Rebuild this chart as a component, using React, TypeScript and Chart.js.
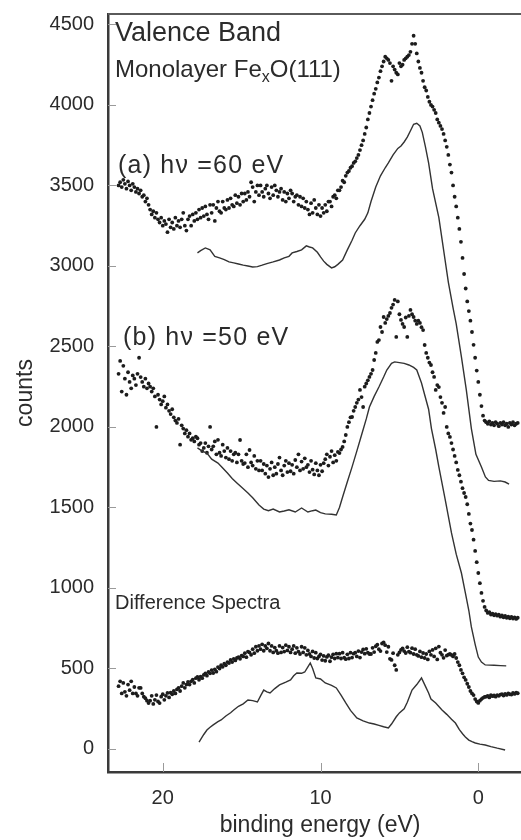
import React, { useEffect, useRef } from "react";
import { Chart, registerables } from "chart.js";

Chart.register(...registerables);

// Spectra sampled on a fixed 0.1 eV grid, starting at 22.8 eV binding energy.
const DOT_START_EV = 22.8;
const DOT_STEP_EV = 0.1;

// (a) hν = 60 eV, measured counts
const countsA60: number[] = [
  3500, 3520, 3490, 3535, 3510, 3480, 3525, 3500, 3470, 3510,
  3490, 3460, 3480, 3450, 3470, 3430, 3440, 3400, 3420, 3380,
  3350, 3320, 3340, 3300, 3330, 3290, 3270, 3300, 3250, 3280,
  3260, 3210, 3290, 3240, 3270, 3230, 3300, 3250, 3280, 3240,
  3290, 3330, 3250, 3220, 3290, 3310, 3250, 3320, 3280, 3330,
  3290, 3350, 3300, 3360, 3310, 3370, 3320, 3290, 3380, 3330,
  3380, 3280, 3360, 3400, 3340, 3330, 3400, 3360, 3350, 3410,
  3360, 3420, 3380, 3370, 3440, 3390, 3430, 3380, 3450, 3400,
  3450, 3410, 3460, 3430, 3520, 3490, 3400, 3460, 3500, 3440,
  3500, 3460, 3430, 3480, 3500, 3450, 3420, 3490, 3440, 3500,
  3470, 3430, 3460, 3480, 3410, 3460, 3400, 3450, 3420, 3470,
  3450, 3400, 3430, 3440, 3380, 3430, 3370, 3420, 3360, 3400,
  3350, 3320, 3390, 3330, 3410, 3360, 3320, 3380, 3310, 3360,
  3330, 3380, 3340, 3400, 3400, 3370, 3430, 3440, 3420, 3470,
  3470, 3490, 3530, 3520, 3560, 3580, 3590, 3610, 3620, 3640,
  3650, 3670, 3690, 3720, 3750, 3780, 3820, 3860, 3910, 3950,
  3990, 4030, 4070, 4100, 4140, 4170, 4210, 4240, 4270, 4300,
  4290, 4280, 4260, 4150, 4240, 4220, 4200, 4190, 4260, 4240,
  4250, 4280, 4290, 4300, 4310, 4330, 4380, 4430, 4380, 4320,
  4270, 4230, 4200, 4150, 4110, 4090, 4050, 4020, 4000, 3990,
  3970, 3950, 3910, 3890, 3870, 3850, 3820, 3780, 3740, 3690,
  3630, 3580, 3500, 3430, 3370, 3300, 3230, 3150, 3050, 2950,
  2860, 2780, 2720, 2660, 2590, 2510, 2430, 2350, 2280, 2200,
  2130, 2070, 2040, 2030, 2020, 2035, 2015, 2025, 2010, 2030,
  2020, 2005, 2025, 2015, 2030, 2010, 2020, 2000, 2025, 2015,
  2030, 2010, 2020, 2025,
];

// (b) hν = 50 eV, measured counts
const countsB50: number[] = [
  2330, 2410, 2220, 2380, 2300, 2200, 2340, 2280, 2240, 2320,
  2300, 2260, 2330, 2430, 2310, 2280, 2250, 2300, 2240, 2270,
  2250, 2220, 2240, 2190, 2000, 2200, 2170, 2140, 2160, 2190,
  2120, 2140, 2100, 2080, 2110, 2060, 2040, 2025, 2050, 1890,
  2010, 1990, 1960, 1980, 1940, 1960, 1920, 1930, 1910, 1940,
  1930, 1890, 1900, 1850, 1870, 1900, 1840, 1880, 2000, 1860,
  1880, 1910, 1830, 1920, 1840, 1820, 1890, 1850, 1810, 1870,
  1800, 1850, 1790, 1830, 1840, 1780, 1830, 1919, 1790, 1770,
  1776, 1830, 1750, 1857, 1780, 1760, 1820, 1740, 1790, 1730,
  1790, 1730, 1770, 1710, 1760, 1689, 1740, 1780, 1700, 1750,
  1710, 1770, 1810, 1730, 1700, 1760, 1790, 1720, 1775, 1725,
  1765, 1710, 1795, 1750, 1830, 1730, 1785, 1740, 1805, 1750,
  1765, 1720, 1790, 1735, 1705, 1775, 1730, 1700, 1765, 1725,
  1775, 1800, 1830, 1760, 1815, 1850, 1780, 1825, 1790, 1845,
  1838, 1860, 1876, 1910, 1950, 2000, 2030, 2060, 2062, 2100,
  2124, 2150, 2170, 2230, 2186, 2124, 2250, 2270, 2290, 2311,
  2330, 2354, 2416, 2460, 2528, 2540, 2621, 2590, 2683, 2646,
  2670, 2690, 2708, 2740, 2760, 2789, 2559, 2780, 2700, 2665,
  2640, 2621, 2680, 2559, 2690, 2727, 2700, 2683, 2660, 2640,
  2660, 2646, 2620, 2602, 2509, 2460, 2430, 2400, 2385, 2340,
  2311, 2230, 2260, 2248, 2186, 2150, 2087, 2124, 2000, 1960,
  1938, 1900, 1860, 1820, 1780, 1733, 1700, 1660, 1620, 1590,
  1565, 1520, 1460, 1400, 1360, 1300, 1230, 1160, 1093, 1030,
  969, 920, 882, 860, 845, 850, 835, 840, 830, 838,
  828, 835, 822, 830, 818, 826, 815, 822, 812, 820,
  810, 818, 808, 815,
];

// Difference spectrum, measured counts
const countsDiff: number[] = [
  390, 420, 345, 410, 355, 330, 400, 365, 420, 345,
  385, 345, 330, 380, 379, 345, 325, 315, 300, 285,
  300, 330, 280, 305, 335, 295, 285, 325, 340, 305,
  330, 348, 320, 350, 340, 360, 345, 370, 379, 360,
  390, 410, 380, 400, 416, 400, 420, 430, 410, 440,
  447, 430, 450, 440, 460, 470, 455, 478, 470, 490,
  472, 495, 480, 509, 500, 520, 510, 530, 520, 540,
  534, 553, 540, 560, 550, 565, 570, 560, 580, 575,
  595, 570, 605, 600, 585, 620, 595, 635, 610, 640,
  620, 650, 610, 640, 625, 655, 610, 640, 600, 630,
  610, 595, 640, 600, 630, 605, 645, 612, 635, 600,
  620, 640, 595, 628, 605, 590, 635, 600, 628, 585,
  612, 590, 575, 606, 565, 598, 562, 575, 588, 552,
  578, 548, 572, 582, 545, 570, 588, 562, 592, 568,
  592, 562, 598, 568, 558, 588, 562, 598, 568, 592,
  598, 575, 608, 568, 602, 618, 592, 622, 598, 590,
  590, 628, 602, 638, 648, 620, 608, 655, 662, 645,
  602, 635, 560, 553, 595, 520, 491, 585, 600, 615,
  625, 608, 596, 632, 605, 598, 626, 590, 620, 585,
  578, 606, 570, 596, 565, 590, 556, 606, 585, 615,
  575, 625, 556, 636, 598, 585, 566, 614, 580, 586,
  590, 584, 575, 590, 565, 540, 520, 491, 470, 445,
  429, 405, 385, 360, 345, 335, 310, 295, 286, 300,
  310, 318, 323, 325, 330, 320, 335, 328, 332, 325,
  335, 330, 338, 340, 332, 342, 336, 345, 340, 338,
  348, 342, 350, 346,
];

// Solid reference curves: [binding energy (eV), counts]
const lineA60: [number, number][] = [
  [17.8, 3081], [17.6, 3095], [17.3, 3112], [17.0, 3100], [16.7, 3060], [16.4, 3050],
  [16.1, 3040], [15.8, 3025], [15.5, 3019], [15.2, 3012], [14.9, 3005], [14.6, 3000],
  [14.3, 2994], [14.0, 2996], [13.7, 3005], [13.4, 3015], [13.0, 3025], [12.6, 3037],
  [12.3, 3050], [12.0, 3060], [11.8, 3081], [11.5, 3090], [11.2, 3100], [10.9, 3125],
  [10.7, 3118], [10.5, 3112], [10.2, 3085], [10.0, 3056], [9.8, 3030], [9.6, 3010],
  [9.3, 2988], [9.1, 2995], [8.9, 3010], [8.6, 3037], [8.3, 3100], [8.0, 3160],
  [7.8, 3205], [7.5, 3250], [7.2, 3290], [7.0, 3330], [6.8, 3400], [6.5, 3491],
  [6.2, 3560], [5.9, 3610], [5.7, 3640], [5.4, 3690], [5.1, 3730], [4.9, 3745],
  [4.7, 3770], [4.5, 3800], [4.3, 3840], [4.1, 3880], [3.9, 3886], [3.7, 3870],
  [3.55, 3830], [3.35, 3740], [3.15, 3640], [2.9, 3480], [2.5, 3300], [2.2, 3100],
  [1.9, 2900], [1.6, 2740], [1.4, 2640], [1.07, 2435], [0.76, 2230], [0.44, 1990],
  [0.15, 1830], [-0.2, 1752], [-0.45, 1690], [-0.65, 1668], [-1.0, 1662], [-1.4, 1665],
  [-1.7, 1658], [-1.95, 1645],
];

const lineB50: [number, number][] = [
  [17.8, 1870], [17.5, 1850], [17.2, 1838], [16.9, 1800], [16.5, 1776], [16.2, 1745],
  [15.9, 1714], [15.6, 1680], [15.3, 1652], [15.0, 1625], [14.6, 1590], [14.3, 1560],
  [13.9, 1515], [13.6, 1490], [13.3, 1480], [13.0, 1490], [12.6, 1472], [12.3, 1478],
  [12.0, 1486], [11.6, 1472], [11.2, 1497], [10.8, 1472], [10.5, 1480], [10.3, 1484],
  [10.0, 1468], [9.7, 1460], [9.3, 1458], [9.0, 1453], [8.8, 1500], [8.6, 1565],
  [8.3, 1660], [8.0, 1752], [7.7, 1850], [7.4, 1950], [7.1, 2050], [6.9, 2124],
  [6.6, 2190], [6.3, 2248], [6.0, 2310], [5.8, 2354], [5.5, 2395], [5.3, 2404],
  [5.0, 2400], [4.7, 2395], [4.4, 2385], [4.1, 2370], [3.9, 2354], [3.6, 2273],
  [3.4, 2200], [3.15, 2110], [2.97, 1990], [2.7, 1860], [2.5, 1752], [2.1, 1550],
  [1.7, 1342], [1.4, 1210], [1.07, 1093], [0.82, 969], [0.6, 860], [0.44, 758],
  [0.2, 650], [0.0, 571], [-0.2, 540], [-0.44, 522], [-1.0, 520], [-1.4, 518],
  [-1.77, 516],
];

const lineDiff: [number, number][] = [
  [17.7, 43], [17.4, 90], [17.2, 118], [17.0, 135], [16.8, 150], [16.5, 170],
  [16.3, 180], [16.0, 205], [15.7, 225], [15.5, 242], [15.2, 265], [14.9, 280],
  [14.6, 304], [14.3, 300], [14.0, 292], [13.8, 330], [13.6, 366], [13.4, 355],
  [13.2, 348], [12.9, 375], [12.6, 398], [12.2, 415], [11.9, 429], [11.7, 455],
  [11.5, 472], [11.2, 470], [11.0, 478], [10.8, 510], [10.65, 534], [10.5, 500],
  [10.3, 441], [10.0, 435], [9.7, 410], [9.3, 395], [9.0, 379], [8.7, 335],
  [8.4, 286], [8.1, 240], [7.7, 193], [7.3, 175], [6.9, 161], [6.6, 155],
  [6.3, 147], [6.0, 138], [5.7, 130], [5.5, 155], [5.2, 200], [5.0, 224],
  [4.7, 250], [4.5, 290], [4.2, 366], [3.9, 400], [3.6, 441], [3.4, 400],
  [3.15, 348], [3.0, 310], [2.7, 285], [2.3, 242], [2.0, 215], [1.7, 185],
  [1.45, 161], [1.2, 120], [1.0, 95], [0.82, 75], [0.6, 55], [0.4, 45],
  [0.19, 37], [-0.1, 30], [-0.44, 25], [-0.8, 15], [-1.2, 5], [-1.7, -6],
];

const Y_TICKS = [0, 500, 1000, 1500, 2000, 2500, 3000, 3500, 4000, 4500];
const X_TICKS = [20, 10, 0];
const X_MIN = -3.41;
const X_MAX = 23.47;
const Y_MIN = -143;
const Y_MAX = 4565;

const FONT = "'Liberation Sans', Arial, Helvetica, sans-serif";
const INK = "#2b2b2b";

const gridPoints = (counts: number[]) =>
  counts.map((c, i) => ({ x: +(DOT_START_EV - i * DOT_STEP_EV).toFixed(2), y: c }));
const pairPoints = (pairs: [number, number][]) => pairs.map(([x, y]) => ({ x, y }));

const frameAndLabels = {
  id: "frameAndLabels",
  afterDraw(chart: any) {
    const { ctx, chartArea: a, scales } = chart;
    const xs = scales.x;
    const ys = scales.y;
    ctx.save();
    // upper frame edge
    ctx.strokeStyle = "#5a5a5a";
    ctx.lineWidth = 2;
    ctx.beginPath();
    ctx.moveTo(a.left, a.top);
    ctx.lineTo(a.right, a.top);
    ctx.stroke();

    // inward tick marks
    ctx.strokeStyle = "#9a9a9a";
    ctx.lineWidth = 1;
    ctx.beginPath();
    Y_TICKS.forEach((v) => {
      const py = Math.round(ys.getPixelForValue(v)) + 0.5;
      ctx.moveTo(a.left, py);
      ctx.lineTo(a.left + 8, py);
    });
    X_TICKS.forEach((v) => {
      const px = Math.round(xs.getPixelForValue(v)) + 0.5;
      ctx.moveTo(px, a.bottom);
      ctx.lineTo(px, a.bottom - 9);
    });
    ctx.stroke();

    // panel annotations
    ctx.fillStyle = INK;
    ctx.textBaseline = "alphabetic";
    ctx.textAlign = "left";
    const lx = a.left + 7;

    ctx.font = `27px ${FONT}`;
    ctx.fillText("Valence Band", lx, a.top + 27);

    ctx.font = `24px ${FONT}`;
    let tx = lx;
    const by = a.top + 63;
    ctx.fillText("Monolayer Fe", tx, by);
    tx += ctx.measureText("Monolayer Fe").width;
    ctx.font = `16px ${FONT}`;
    ctx.fillText("x", tx, by + 5);
    tx += ctx.measureText("x").width;
    ctx.font = `24px ${FONT}`;
    ctx.fillText("O(111)", tx, by);

    ctx.font = `25px ${FONT}`;
    ctx.letterSpacing = "1.2px";
    ctx.fillText("(a) h\u03bd =60 eV", a.left + 10, a.top + 159);
    ctx.fillText("(b) h\u03bd =50 eV", a.left + 15, a.top + 331);
    ctx.letterSpacing = "0px";

    ctx.font = `20px ${FONT}`;
    ctx.fillText("Difference Spectra", lx, a.top + 595);
    ctx.restore();
  },
};

export default function App() {
  const canvasRef = useRef<HTMLCanvasElement | null>(null);

  useEffect(() => {
    const canvas = canvasRef.current;
    if (!canvas) return;
    Chart.defaults.font.family = FONT;
    Chart.defaults.color = INK;

    const dot = (data: { x: number; y: number }[]) => ({
      data,
      showLine: false,
      pointRadius: 1.9,
      pointHoverRadius: 1.9,
      pointStyle: "circle" as const,
      pointBackgroundColor: "#1c1c1c",
      pointBorderWidth: 0,
    });
    const line = (data: { x: number; y: number }[]) => ({
      data,
      showLine: true,
      borderColor: "#333333",
      borderWidth: 1.4,
      pointRadius: 0,
      tension: 0,
      fill: false,
    });

    const chart = new Chart(canvas, {
      type: "scatter",
      data: {
        datasets: [
          line(pairPoints(lineA60)),
          line(pairPoints(lineB50)),
          line(pairPoints(lineDiff)),
          dot(gridPoints(countsA60)),
          dot(gridPoints(countsB50)),
          dot(gridPoints(countsDiff)),
        ] as any,
      },
      options: {
        animation: false,
        responsive: false,
        maintainAspectRatio: false,
        layout: { padding: { top: 14, left: 0, right: 0, bottom: 0 } },
        plugins: { legend: { display: false }, tooltip: { enabled: false } },
        scales: {
          x: {
            type: "linear",
            position: "bottom",
            reverse: true,
            min: X_MIN,
            max: X_MAX,
            afterBuildTicks: (ax: any) => {
              ax.ticks = X_TICKS.map((v) => ({ value: v }));
            },
            afterFit: (ax: any) => {
              ax.height = 68;
              ax.paddingLeft = 0;
              ax.paddingRight = 0;
            },
            grid: { display: false, drawTicks: false },
            border: { display: true, color: "#3a3a3a", width: 2.5 },
            ticks: {
              padding: 14,
              font: { size: 20 },
              color: INK,
              maxRotation: 0,
              autoSkip: false,
              callback: (v: any) => String(v),
            },
            title: {
              display: true,
              text: "binding energy (eV)",
              font: { size: 23 },
              color: INK,
              padding: { top: 0, bottom: 1 },
            },
          },
          y: {
            type: "linear",
            position: "left",
            min: Y_MIN,
            max: Y_MAX,
            afterBuildTicks: (ax: any) => {
              ax.ticks = Y_TICKS.map((v) => ({ value: v }));
            },
            afterFit: (ax: any) => {
              ax.width = 108;
              ax.paddingTop = 0;
              ax.paddingBottom = 0;
            },
            grid: { display: false, drawTicks: false },
            border: { display: true, color: "#3a3a3a", width: 2.5 },
            ticks: {
              padding: 14,
              font: { size: 20 },
              color: INK,
              autoSkip: false,
              callback: (v: any) => String(v),
            },
            title: {
              display: true,
              text: "counts",
              font: { size: 23 },
              color: INK,
              padding: { top: 12, bottom: 0 },
            },
          },
        },
      },
      plugins: [frameAndLabels],
    });

    return () => chart.destroy();
  }, []);

  return (
    <div
      style={{
        position: "absolute",
        left: 0,
        top: 0,
        width: 521,
        height: 840,
        overflow: "hidden",
        background: "#fff",
      }}
    >
      <canvas ref={canvasRef} width={534} height={840} style={{ display: "block" }} />
    </div>
  );
}
